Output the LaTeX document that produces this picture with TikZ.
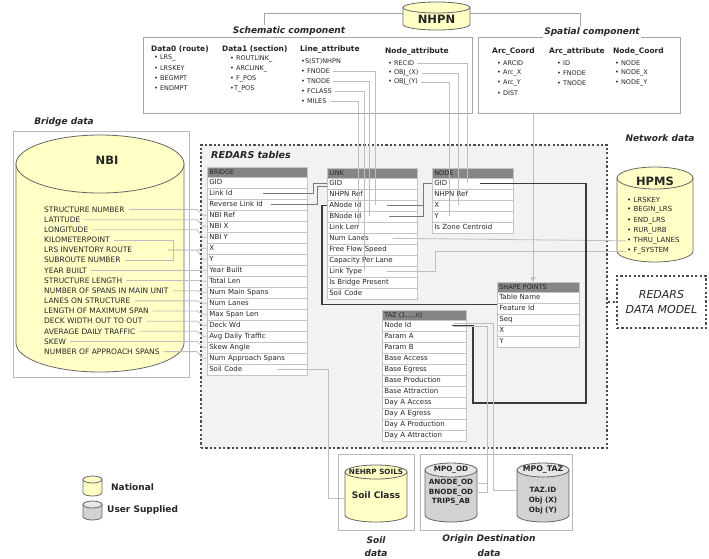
\documentclass[tikz,border=0pt]{standalone}
\usepackage{fontspec}
\setmainfont{DejaVu Sans}[ItalicFont={DejaVu Sans Oblique},BoldFont={DejaVu Sans Bold},BoldItalicFont={DejaVu Sans Bold Oblique}]
\usetikzlibrary{arrows.meta}
\definecolor{cylY}{HTML}{FFFFC6}
\definecolor{cylG}{HTML}{D2D2D2}
\definecolor{cylGt}{HTML}{E6E6E6}
\definecolor{cylL}{HTML}{666666}
\definecolor{hdrC}{HTML}{858585}
\definecolor{rowC}{HTML}{C4C4C4}
\definecolor{connLc}{HTML}{BEBEBE}
\definecolor{connMc}{HTML}{7A7A7A}
\definecolor{connDc}{HTML}{3C3C3C}
\definecolor{regC}{HTML}{F2F2F2}
\definecolor{boxC}{HTML}{A6A6A6}
\definecolor{txtC}{HTML}{262626}
\newcommand\tblfont{\fontsize{7}{8}\selectfont}
\newcommand\hdrfont{\fontsize{6.5}{7}\selectfont}
\newcommand\bulfont{\fontsize{6.5}{7.5}\selectfont}
\newcommand\colhfont{\bfseries\fontsize{7.5}{8.5}\selectfont}
\newcommand\cylhfont{\bfseries\fontsize{11.5}{13}\selectfont}
\newcommand\lblfont{\bfseries\itshape\fontsize{9}{10}\selectfont}
\newcommand\redfont{\bfseries\itshape\fontsize{9.5}{11}\selectfont}
\newcommand\modfont{\itshape\fontsize{11}{12}\selectfont}
\newcommand\nbifont{\fontsize{7.5}{8.5}\selectfont}
\newcommand\cylifont{\bfseries\fontsize{7.2}{8}\selectfont}
\newcommand\legfont{\bfseries\fontsize{9}{10}\selectfont}
\newcommand\hpmfont{\fontsize{7}{8}\selectfont}
% cylinder: x-left, y-top, width, height, ry, body fill, top fill
\newcommand\cyl[7]{%
  \filldraw[fill=#6,draw=cylL,line width=0.8pt]
    ({#1},{#2+#5}) -- ({#1},{#2+#4-#5})
    arc[start angle=180,end angle=0,x radius={#3/2},y radius={#5}]
    -- ({#1+#3},{#2+#5}) -- cycle;
  \filldraw[fill=#7,draw=cylL,line width=0.8pt] ({#1+#3/2},{#2+#5}) ellipse[x radius={#3/2},y radius={#5}];
}
\newcommand\mktable[6]{%
  \pgfmathsetmacro\tblw{#4-4}%
  \node[thead,text width=\tblw pt] (#1-h) at (#2,#3) {#5};
  \foreach \rowtxt [count=\i] in {#6}{%
    \node[trow,text width=\tblw pt] (#1-\i) at ({#2},{#3+9.5+11*(\i-1)}) {\rowtxt};
  }%
}
\begin{document}
\begin{tikzpicture}[x=1pt,y=-1pt,
 every node/.style={text=txtC},
 cbox/.style={draw=boxC,line width=0.9pt,fill=white,inner sep=0pt},
 lbl/.style={font=\lblfont,inner sep=1.5pt},
 bul/.style={anchor=west,inner sep=1pt,font=\bulfont},
 colh/.style={anchor=west,inner sep=1pt,font=\colhfont},
 nbiitem/.style={anchor=west,inner sep=1pt,font=\nbifont},
 hpitem/.style={anchor=west,inner sep=1pt,font=\hpmfont},
 cylbox/.style={inner sep=0pt,draw=none},
 cylt/.style={font=\cylhfont,inner sep=1pt},
 cyli/.style={font=\cylifont,inner sep=0.5pt},
 thead/.style={draw=rowC,fill=hdrC,anchor=north west,inner xsep=2pt,inner ysep=0pt,minimum height=9.5pt,font=\hdrfont,text=black!85,align=left,line width=0.6pt},
 trow/.style={draw=rowC,fill=white,anchor=north west,inner xsep=2pt,inner ysep=0pt,minimum height=11pt,font=\tblfont,text=txtC,align=left,line width=0.6pt},
 connL/.style={draw=connLc,line width=0.8pt},
 connM/.style={draw=connMc,line width=0.9pt},
 connD/.style={draw=connDc,line width=1.3pt},
 dotb/.style={draw=black!70,line width=2.2pt,dash pattern=on 2.2pt off 2.2pt},
 nline/.style={draw=boxC,line width=0.9pt}]
\path[use as bounding box,fill=white] (0,0) rectangle (709,558);

% ---------- Bridge data box ----------
\node[cbox,draw=boxC!80,minimum width=176pt,minimum height=246pt] (bridgebox) at (101,254) {};
\node[lbl] (bridgelbl) at (64,122) {Bridge data};

% ---------- NHPN ----------
\node[cbox,minimum width=329pt,minimum height=76pt] (schem) at (307.5,75) {};
\node[cbox,minimum width=202pt,minimum height=76pt] (spatial) at (579,75) {};
\node[lbl,fill=white] (schemlbl) at (289,31) {Schematic component};
\node[lbl,fill=white] (spatlbl) at (592,32) {Spatial component};
\node[cylbox,minimum width=67pt,minimum height=28pt] (nhpn) at (436.5,16) {};
\cyl{403}{2}{67}{28}{5.5}{cylY}{cylY}
\node[cylt] (nhpnt) at (436.5,19.5) {NHPN};
\coordinate (nl) at (264,25);
\coordinate (nr) at (580,26);
\draw[nline] ([yshift=3pt]nhpn.west) -| (nl);
\draw[nline] ([yshift=3pt]nhpn.east) -| (nr);

% schematic columns
\node[colh] (d0h) at (150,49) {Data0 (route)};
\node[bul] (d0a) at (153,58) {• LRS\_};
\node[bul] (d0b) at (153,68) {• LRSKEY};
\node[bul] (d0c) at (153,78) {• BEGMPT};
\node[bul] (d0d) at (153,88) {• ENDMPT};
\node[colh] (d1h) at (221,49) {Data1 (section)};
\node[bul] (d1a) at (229,59) {• ROUTLINK\_};
\node[bul] (d1b) at (229,69) {• ARCLINK\_};
\node[bul] (d1c) at (229,79) {• F\_POS};
\node[bul] (d1d) at (229,89) {•T\_POS};
\node[colh] (lah) at (299,50) {Line\_attribute};
\node[bul] (la1) at (300,61) {•S(ST)NHPN};
\node[bul] (la2) at (300,71) {• FNODE};
\node[bul] (la3) at (300,81) {• TNODE};
\node[bul] (la4) at (300,91) {• FCLASS};
\node[bul] (la5) at (300,101) {• MILES};
\node[colh] (nah) at (384,52) {Node\_attribute};
\node[bul] (na1) at (387,63) {• RECID};
\node[bul] (na2) at (387,73) {• OBJ\_(X)};
\node[bul] (na3) at (387,82) {• OBJ\_(Y)};
% spatial columns
\node[colh] (ach) at (491,52) {Arc\_Coord};
\node[bul] (ac1) at (496,63) {• ARCID};
\node[bul] (ac2) at (496,73) {• Arc\_X};
\node[bul] (ac3) at (496,83) {• Arc\_Y};
\node[bul] (ac4) at (496,93) {• DIST};
\node[colh] (aah) at (548,52) {Arc\_attribute};
\node[bul] (aa1) at (556,63) {• ID};
\node[bul] (aa2) at (556,73) {• FNODE};
\node[bul] (aa3) at (556,83) {• TNODE};
\node[colh] (nch) at (612,52) {Node\_Coord};
\node[bul] (nc1) at (614,63) {• NODE};
\node[bul] (nc2) at (614,73) {• NODE\_X};
\node[bul] (nc3) at (614,83) {• NODE\_Y};

% ---------- REDARS region ----------
\node[dotb,fill=regC,minimum width=406pt,minimum height=303pt,inner sep=0pt] (redars) at (404,296.5) {};
\node[font=\redfont,anchor=west,inner sep=1pt] (redlbl) at (210,155) {REDARS tables};
\node[lbl] (netlbl) at (660,138) {Network data};
\node[dotb,fill=white,minimum width=89pt,minimum height=52pt,inner sep=0pt] (model) at (661.5,302) {};
\node[font=\modfont,inner sep=1pt] (modt1) at (661.5,294) {REDARS};
\node[font=\modfont,inner sep=1pt] (modt2) at (661.5,309.5) {DATA MODEL};
\draw[dotb] (redars.east |- model.west) -- (model.west);

% ---------- tables ----------
\mktable{bridge}{207}{167}{100}{BRIDGE}{GID,Link Id,Reverse Link Id,NBI Ref,NBI X,NBI Y,X,Y,Year Built,Total Len,Num Main Spans,Num Lanes,Max Span Len,Deck Wd,Avg Daily Traffic,Skew Angle,Num Approach Spans,Soil Code}
\mktable{link}{327}{168}{90}{LINK}{GID,NHPN Ref,ANode Id,BNode Id,Link Len,Num Lanes,Free Flow Speed,Capacity Per Lane,Link Type,Is Bridge Present,Soil Code}
\mktable{node}{432}{168}{81}{NODE}{GID,NHPN Ref,X,Y,Is Zone Centroid}
\mktable{shape}{497}{282}{82}{SHAPE POINTS}{Table Name,Feature Id,Seq,X,Y}
\mktable{taz}{382}{310}{84}{TAZ (1,...,n)}{Node Id,Param A,Param B,Base Access,Base Egress,Base Production,Base Attraction,Day A Access,Day A Egress,Day A Production,Day A Attraction}

% ---------- HPMS ----------
\node[cylbox,minimum width=76pt,minimum height=95pt] (hpms) at (655,214.5) {};
\cyl{617}{167}{76}{95}{11}{cylY}{cylY}
\node[cylt] (hpmst) at (655,181) {HPMS};
\foreach \t [count=\i] in {• LRSKEY,• BEGIN\_LRS,• END\_LRS,• RUR\_URB,• THRU\_LANES,• F\_SYSTEM}
  \node[hpitem] (hp-\i) at ({626},{200+10.2*(\i-1)}) {\t};

% ---------- NBI ----------
\node[cylbox,minimum width=168pt,minimum height=237pt] (nbi) at (100,253.5) {};
\cyl{16}{135}{168}{237}{29}{cylY}{cylY}
\node[cylt] (nbitl) at (107,160) {NBI};
\foreach \t [count=\i] in {STRUCTURE NUMBER,LATITUDE,LONGITUDE,KILOMETERPOINT,LRS INVENTORY ROUTE,SUBROUTE NUMBER,YEAR BUILT,STRUCTURE LENGTH,NUMBER OF SPANS IN MAIN UNIT,LANES ON STRUCTURE,LENGTH OF MAXIMUM SPAN,DECK WIDTH OUT TO OUT,AVERAGE DAILY TRAFFIC,SKEW,NUMBER OF APPROACH SPANS}
  \node[nbiitem] (nbi-\i) at ({43},{209.5+10.15*(\i-1)}) {\t};

% ---------- bottom data ----------
\node[cbox,draw=boxC!80,minimum width=76pt,minimum height=76pt] (soilbox) at (376,492) {};
\node[cbox,draw=boxC!80,minimum width=152pt,minimum height=76pt] (odbox) at (496,492) {};
\node[cylbox,minimum width=62pt,minimum height=57pt] (soilcyl) at (376,493.5) {};
\cyl{345}{465}{62}{57}{7}{cylY}{cylY}
\node[cyli] (soilt) at (376,471.5) {NEHRP SOILS};
\node[font=\bfseries\fontsize{9}{10}\selectfont,inner sep=1pt] (soilcls) at (376,495) {Soil Class};
\node[cylbox,minimum width=52pt,minimum height=59pt] (mpood) at (451,492.5) {};
\cyl{425}{463}{52}{59}{7}{cylG}{cylGt}
\node[cyli] (mpoodt) at (451,469.5) {MPO\_OD};
\node[cyli] (anode) at (451,483) {ANODE\_OD};
\node[cyli] (bnode) at (451,492.5) {BNODE\_OD};
\node[cyli] (trips) at (451,502) {TRIPS\_AB};
\node[cylbox,minimum width=52pt,minimum height=59pt] (mpotaz) at (543,492.5) {};
\cyl{517}{463}{52}{59}{7}{cylG}{cylGt}
\node[cyli,font=\bfseries\fontsize{7.8}{8}\selectfont] (mpotazt) at (543,469.5) {MPO\_TAZ};
\node[cyli] (tazid) at (543,490) {TAZ.ID};
\node[cyli] (objx) at (543,500.5) {Obj (X)};
\node[cyli] (objy) at (543,511) {Obj (Y)};
\node[lbl] (soill1) at (376,540) {Soil};
\node[lbl] (soill2) at (376,553) {data};
\node[lbl] (odl1) at (489,539) {Origin Destination};
\node[lbl] (odl2) at (489,553) {data};

% ---------- legend ----------
\node[cylbox,minimum width=19pt,minimum height=20pt] (legy) at (92.5,486) {};
\cyl{83}{476}{19}{20}{3.5}{cylY}{cylY}
\node[anchor=west,font=\legfont,inner sep=1pt] (legyt) at (110,487) {National};
\node[cylbox,minimum width=19pt,minimum height=19pt] (legg) at (92.5,510.5) {};
\cyl{83}{501}{19}{19}{3.5}{cylG}{cylGt}
\node[anchor=west,font=\legfont,inner sep=1pt] (leggt) at (106,510) {User Supplied};

% ---------- connectors ----------
% NBI -> BRIDGE
\coordinate (vN) at (197,0);
\foreach \a/\b in {1/4,2/5,3/6,7/9,8/10,9/11,10/12,11/13,12/14,13/15,14/16,15/17}
  \draw[connL] ([xshift=3pt]nbi-\a.east) -- (vN |- nbi-\a.east) -- ([xshift=-4pt]bridge-\b.west) -- (bridge-\b.west);
\coordinate (vK) at (173,0);
\coordinate (vK2) at (168,0);
\draw[connL] ([xshift=3pt]nbi-4.east) -| (vK |- nbi-6.east) -- ([xshift=3pt]nbi-6.east);
\draw[connL] (vK2 |- nbi-5.east) -- (vN |- nbi-5.east) -- ([xshift=-4pt]bridge-7.west) -- (bridge-7.west);
\draw[connL] (vN |- nbi-5.east) -- ([xshift=-4pt]bridge-8.west) -- (bridge-8.west);

% Line_attribute -> LINK
\coordinate (vF) at (375,0);
\coordinate (vT) at (369,0);
\coordinate (vC) at (364,0);
\coordinate (vM) at (358,0);
\draw[connL] ([xshift=2pt]la2.east) -| (vF |- link-3.center);
\draw[connL] ([xshift=2pt]la3.east) -| (vT |- link-4.center);
\draw[connL] ([xshift=2pt]la4.east) -| (vC |- link-9.center);
\draw[connL] ([xshift=3pt]la5.east) -| (vM |- link-5.center);
% Node_attribute -> NODE
\coordinate (vR) at (467,0);
\coordinate (vX) at (458,0);
\coordinate (vY) at (449,0);
\draw[connL] ([xshift=2pt]na1.east) -| (vR |- node-1.center);
\draw[connL] ([xshift=2pt]na2.east) -| (vX |- node-3.center);
\draw[connL] ([xshift=2pt]na3.east) -| (vY |- node-4.center);
% Spatial -> SHAPE POINTS
\coordinate (vSp) at ([xshift=-46pt]spatial.south);
\draw[connL,-{Triangle[length=5pt,width=4.5pt]}] (vSp) -- (vSp |- shape-h.north);

% BRIDGE -> LINK
\coordinate (lnA) at (313,0);
\coordinate (lnB) at (317,0);
\coordinate (hR) at (0,186);
\draw[connM] ([xshift=56pt]bridge-2.west) -| (lnA |- link-1.west) -- (link-1.west);
\draw[connM] ([xshift=64pt]bridge-3.west) -| (lnB |- hR) -- (link-1.west |- hR);
% LINK -> NODE
\coordinate (vA) at (423,0);
\draw[connM] ([xshift=60pt]link-3.west) -| (vA |- node-1.west) -- (node-1.west);
\draw[connM] ([xshift=62pt]link-4.west) -| (vA |- node-1.west);
% LINK -> HPMS
\coordinate (vFs) at (435,0);
\draw[connL] ([xshift=65pt]link-6.west) -- (hp-5.west);
\draw[connL] ([xshift=60pt]link-9.west) -| (vFs |- hp-6.west) -- (hp-6.west);
% LINK ANode -> SHAPE POINTS
\coordinate (vS) at (322,0);
\draw[connD] (link-3.west) -- (vS |- link-3.west) |- ([yshift=4pt]shape-2.west);
% NODE GID -> TAZ Node Id
\coordinate (vG) at (586,0);
\coordinate (vH) at (473,0);
\coordinate (hT) at (0,403);
\draw[connD] ([xshift=48pt]node-1.west) -- (vG |- node-1.west) -- (vG |- hT) -- (vH |- hT) |- ([xshift=70pt]taz-1.west);
% TAZ -> MPO
\coordinate (vO) at (487,0);
\coordinate (vP) at (493,0);
\draw[connL] ([xshift=72pt,yshift=2pt]taz-1.west) -| (vP |- tazid.west) -- (mpotaz.west |- tazid.west);
\draw[connL] ([xshift=72pt,yshift=-1pt]taz-1.west) -| (vO |- bnode.east) -- (mpood.east |- bnode.east);
\draw[connL] (vO |- anode.east) -- (mpood.east |- anode.east);
% BRIDGE Soil Code -> NEHRP SOILS
\coordinate (vSo) at (328,0);
\coordinate (hSo) at (0,498);
\draw[connL] ([xshift=70pt]bridge-18.west) -| (vSo |- hSo) -- (soilcyl.west |- hSo);
\end{tikzpicture}
\end{document}
